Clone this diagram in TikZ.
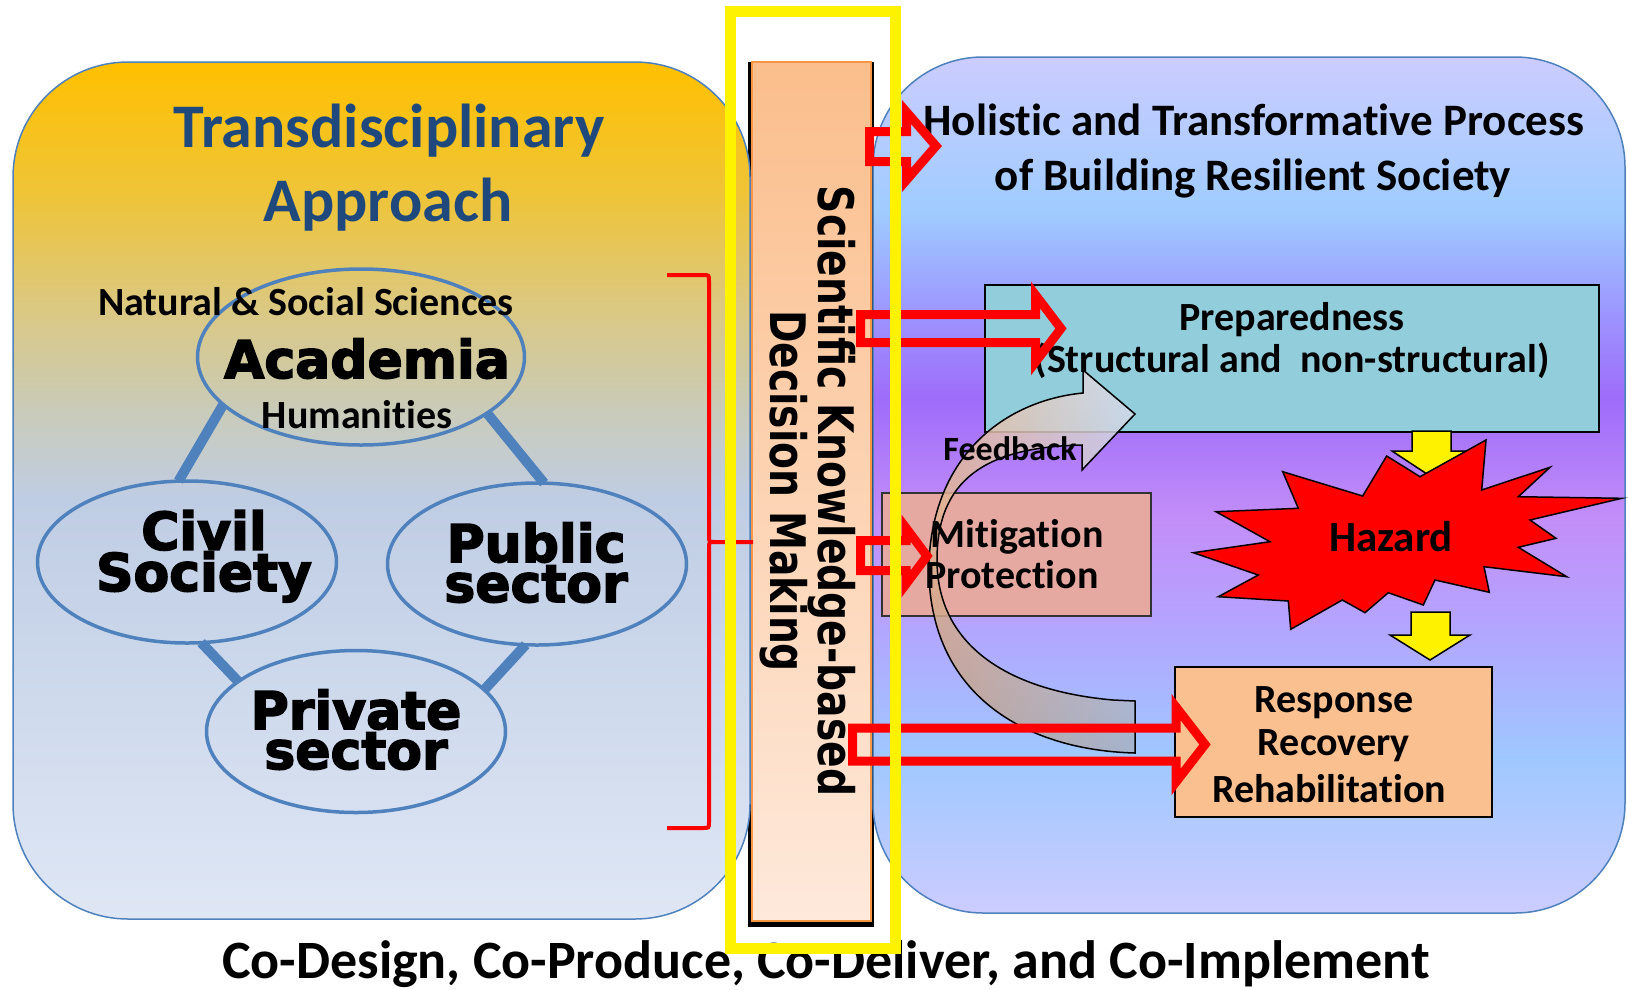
\documentclass[tikz,border=0pt]{standalone}
\usepackage{fontspec}
\setmainfont{Carlito}[Ligatures={NoCommon}]
\newfontfamily\dvs{DejaVu Sans}
\newfontfamily\heavy{DejaVu Sans}[BoldFeatures={FakeBold=3}]
\usetikzlibrary{shapes.geometric,shadings}
\definecolor{boxblue}{HTML}{4F81BD}
\definecolor{titleblue}{HTML}{1F497D}
\definecolor{prepfill}{HTML}{92CDDC}
\definecolor{mitfill}{HTML}{E6A9A2}
\definecolor{respfill}{HTML}{FAC090}
\definecolor{barorange}{HTML}{F79646}
\definecolor{bartop}{HTML}{FBBE8C}
\definecolor{barbot}{HTML}{FEE9DB}
\definecolor{lbA}{HTML}{DFE7F5}
\definecolor{lbB}{HTML}{BFCDE4}
\definecolor{lbC}{HTML}{CACBB6}
\definecolor{lbD}{HTML}{DCC87E}
\definecolor{lbE}{HTML}{EEC43A}
\definecolor{lbF}{HTML}{FFC000}
\definecolor{rbA}{HTML}{CCCCFF}
\definecolor{rbB}{HTML}{9FC8FF}
\definecolor{rbC}{HTML}{B4A4FF}
\definecolor{rbD}{HTML}{C38EF8}
\definecolor{rbE}{HTML}{9E6CFA}
\definecolor{rbF}{HTML}{9C9CFF}
\definecolor{rbG}{HTML}{9FCCFF}
\definecolor{fbUL}{RGB}{242,188,148}
\definecolor{fbUR}{RGB}{215,223,242}
\definecolor{fbLL}{RGB}{196,156,128}
\definecolor{fbLR}{RGB}{166,176,196}
\pgfdeclareverticalshading{leftbg}{100bp}{color(0bp)=(lbA); color(25bp)=(lbA); color(49.5bp)=(lbB); color(55bp)=(lbC); color(61bp)=(lbD); color(67bp)=(lbE); color(75bp)=(lbF); color(100bp)=(lbF)}
\pgfdeclareverticalshading{rightbg}{100bp}{color(0bp)=(rbA); color(25bp)=(rbA); color(34bp)=(rbB); color(42bp)=(rbC); color(48bp)=(rbD); color(55bp)=(rbE); color(60.8bp)=(rbF); color(66bp)=(rbG); color(75bp)=(rbA); color(100bp)=(rbA)}
\newcommand\fTitle{\fontsize{62pt}{62pt}\selectfont\bfseries}
\newcommand\fSm{\fontsize{40pt}{40pt}\selectfont\bfseries}
\newcommand\fHeavy{\fontsize{52pt}{40pt}\selectfont\heavy\bfseries}
\newcommand\fHol{\fontsize{45pt}{45pt}\selectfont\bfseries}
\newcommand\fFb{\fontsize{34pt}{34pt}\selectfont\bfseries}
\newcommand\fHaz{\fontsize{43pt}{43pt}\selectfont\bfseries}
\newcommand\fBar{\fontsize{49pt}{49pt}\selectfont\dvs\bfseries}
\newcommand\fBot{\fontsize{54pt}{54pt}\selectfont\bfseries}
\begin{document}
\begin{tikzpicture}[x=1pt,y=-1pt,
  tx/.style={inner sep=0pt, outer sep=0pt, anchor=base},
  ell/.style={ellipse, draw=boxblue, line width=3.5pt, minimum width=299pt, minimum height=162pt, inner sep=0pt, outer sep=0pt},
  conn/.style={draw=boxblue, line width=10pt},
  redline/.style={draw=red, line width=4pt},
  redarrow/.style={draw=red, line width=9pt, line join=miter, miter limit=10},
  yarrow/.style={fill=yellow, draw=black, line width=1.5pt},
  boxn/.style={draw=black, line width=2pt, inner sep=0pt, outer sep=0pt}]
\useasboundingbox (0,0) rectangle (1628,989);
\fill[white] (0,0) rectangle (1628,989);
% bar shadow
\fill[black] (748,62) rectangle (874,927);
% left and right panels
\path[shade, shading=leftbg, draw=boxblue, line width=1.5pt, rounded corners=115pt] (13,62) rectangle (750,919);
\path[shade, shading=rightbg, draw=boxblue, line width=1.5pt, rounded corners=110pt] (873,57) rectangle (1625,913);
% bar
\node[draw=barorange, line width=1.5pt, top color=bartop, bottom color=barbot, minimum width=119pt, minimum height=859pt, inner sep=0pt, outer sep=0pt] (bar) at (811.5,491.5) {};
% left content
\node[tx, text=titleblue, font=\fTitle] (title1) at (389,147) {Transdisciplinary};
\node[tx, text=titleblue, font=\fTitle] (title2) at (388,221) {Approach};
\node[ell, minimum width=327pt, minimum height=176pt] (aca) at (361,357) {};
\node[ell] (civ) at (187,562) {};
\node[ell] (pub) at (537,564) {};
\node[ell] (pri) at (356,731.5) {};
\draw[conn] (aca.199) -- (civ.96);
\draw[conn] (aca.336) -- (pub.85);
\draw[conn] (civ.280) -- (pri.157);
\draw[conn] (pub.262) -- (pri.18);
\node[tx, font=\fSm] (nat) at (306,315) {Natural \& Social Sciences};
\node[tx, font=\fHeavy] (acat) at (367,378) {Academia};
\node[tx, font=\fSm] (hum) at (357,428) {Humanities};
\node[tx, font=\fHeavy, align=center] (civt) at (204,591) {Civil\\Society};
\node[tx, font=\fHeavy, align=center] (pubt) at (536,602) {Public\\sector};
\node[tx, font=\fHeavy, align=center] (prit) at (356,769) {Private\\sector};
% red brace
\coordinate (bracetip) at (753,542);
\draw[redline] (667,275) -- (703,275) .. controls (709,275) .. (709,281) -- (709,536) .. controls (709,542) .. (715,542) -- (bracetip);
\draw[redline] (715,542) .. controls (709,542) .. (709,548) -- (709,822) .. controls (709,828) .. (703,828) -- (667,828);
% right boxes
\node[boxn, fill=prepfill, minimum width=614pt, minimum height=147pt] (prep) at (1292,358.5) {};
\node[boxn, draw=black!80, fill=mitfill, minimum width=269pt, minimum height=123pt] (mit) at (1016.5,554.5) {};
\node[boxn, fill=respfill, minimum width=317pt, minimum height=150pt] (resp) at (1333.5,742) {};
% feedback curved arrow
\path[draw=black, line width=1.5pt, fill opacity=0.85,
  upper left=fbUL, upper right=fbUR, lower left=fbLL, lower right=fbLR]
  (1083,393) .. controls (1010,400) and (935,450) .. (929,560)
  .. controls (925,690) and (1020,750) .. (1135,753)
  -- (1135,701) -- (1113,700)
  .. controls (1000,690) and (937,640) .. (937,560)
  .. controls (937,480) and (985,447) .. (1082,445)
  -- (1082,470) -- (1135,414) -- (1083,370) -- cycle;
% yellow arrows
\path[yarrow] (1412,431) -- (1451,431) -- (1451,451) -- (1467,451) -- (1430,476) -- (1392,451) -- (1412,451) -- cycle;
\path[yarrow] (1411,612) -- (1450,612) -- (1450,635) -- (1470,635) -- (1430,660) -- (1390,635) -- (1411,635) -- cycle;
% hazard
\path[fill=red, draw=black, line width=1.5pt, line join=miter]
 (1386.7,456) -- (1420,476.7) -- (1486,440) -- (1481.7,490) -- (1550,467.3) -- (1518.3,496.7) -- (1621.7,498.3) -- (1530,520) -- (1556,538.3) -- (1518.3,547.3) -- (1566.7,576.7) -- (1484,566.7) -- (1489.3,592.3) -- (1435,580) -- (1423.3,605) -- (1388.3,592.7) -- (1365,612.7) -- (1342.3,600) -- (1290.7,629.3) -- (1288.3,601) -- (1218.3,596.7) -- (1258.3,575) -- (1193.3,552.7) -- (1270,541.7) -- (1216,511.7) -- (1298.3,508.3) -- (1282.7,471.7) -- (1362.7,496) -- cycle;
% right texts
\node[tx, font=\fHol] (hol1) at (1254,135) {Holistic and Transformative Process};
\node[tx, font=\fHol] (hol2) at (1253,190) {of Building Resilient Society};
\node[tx, font=\fSm] (prep1) at (1292,330) {Preparedness};
\node[tx, font=\fSm] (prep2) at (1292,372) {(Structural and\ \ non-structural)};
\node[tx, font=\fFb] (fb) at (1010,460) {Feedback};
\node[tx, font=\fSm] (mit1) at (1017,547) {Mitigation};
\node[tx, font=\fSm] (mit2) at (1012,588) {Protection};
\node[tx, font=\fHaz] (haz) at (1391,551) {Hazard};
\node[tx, font=\fSm] (r1) at (1334,712) {Response};
\node[tx, font=\fSm] (r2) at (1334,755) {Recovery};
\node[tx, font=\fSm] (r3) at (1329,802) {Rehabilitation};
% bar text
\node[tx, rotate=-90, font=\fBar] (bt1) at (818,491) {\scalebox{0.8}[1]{Scientific Knowledge-based}};
\node[tx, rotate=-90, font=\fBar] (bt2) at (770,491) {\scalebox{0.8}[1]{Decision Making}};
% red block arrows
\path[redarrow] (869.5,131.5) -- (906.5,131.5) -- (906.5,112) -- (936,146) -- (906.5,180) -- (906.5,161.5) -- (869.5,161.5) -- cycle;
\path[redarrow] (860.5,314.5) -- (1035.5,314.5) -- (1035.5,295) -- (1061,328.5) -- (1035.5,362) -- (1035.5,342.5) -- (860.5,342.5) -- cycle;
\path[redarrow] (860.5,540.5) -- (906,540.5) -- (906,528) -- (927,556) -- (906,584) -- (906,570.5) -- (860.5,570.5) -- cycle;
\path[redarrow] (852.5,728) -- (1176,728) -- (1176,707) -- (1205,744.5) -- (1176,782) -- (1176,761) -- (852.5,761) -- cycle;
% bottom text
\node[tx, font=\fBot] (bottom) at (826,978) {Co-Design, Co-Produce, Co-Deliver, and Co-Implement};
% yellow frame
\draw[yellow, line width=11pt] (730,11.5) rectangle (895.5,948);
\end{tikzpicture}
\end{document}
